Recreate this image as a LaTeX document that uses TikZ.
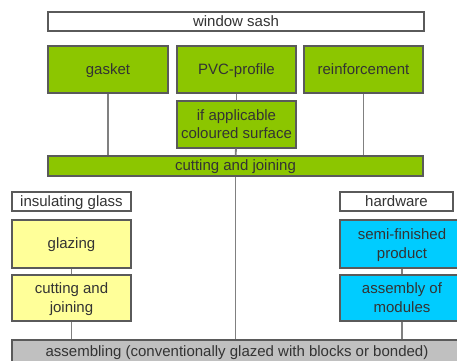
\documentclass[tikz,border=0pt]{standalone}
\usepackage{fontspec}
\setmainfont{Liberation Sans}
\definecolor{boxgreen}{RGB}{140,198,0}
\definecolor{boxyellow}{RGB}{255,255,153}
\definecolor{boxblue}{RGB}{0,204,255}
\definecolor{boxgray}{RGB}{192,192,192}
\definecolor{linegray}{RGB}{128,128,128}
\definecolor{edgegray}{RGB}{90,90,90}
\tikzset{
    stage/.style={draw=edgegray, line width=1.2pt, inner sep=0pt, align=center,
        font=\fontsize{15}{18.5}\selectfont, text=black!80, text depth=1pt},
    link/.style={draw=linegray, line width=1.8pt}
}
\begin{document}
\begin{tikzpicture}[x=1pt, y=-1pt]
    \useasboundingbox (0,0) rectangle (457,360);
    \clip (0,0) rectangle (457,360);

    % top: sash and its parts
    \node[stage, fill=white, minimum width=376pt, minimum height=19pt] (sash) at (236,21.5) {window sash};
    \node[stage, fill=boxgreen, minimum width=120pt, minimum height=47pt] (gasket) at (108,69.5) {gasket};
    \node[stage, fill=boxgreen, minimum width=119pt, minimum height=47pt] (profile) at (236.5,69.5) {PVC-profile};
    \node[stage, fill=boxgreen, minimum width=119pt, minimum height=47pt] (reinf) at (363.5,69.5) {reinforcement};
    \node[stage, fill=boxgreen, minimum width=119pt, minimum height=47pt] (surface) at (236.5,124.5)
        {if applicable\\coloured surface};
    \node[stage, fill=boxgreen, minimum width=375pt, minimum height=20pt] (cutjoin) at (235.5,166) {cutting and joining};

    % left: insulating glass
    \node[stage, fill=white, minimum width=119pt, minimum height=19pt] (glass) at (71.5,201.5) {insulating glass};
    \node[stage, fill=boxyellow, minimum width=119pt, minimum height=48pt] (glazing) at (71.5,244) {glazing};
    \node[stage, fill=boxyellow, minimum width=119pt, minimum height=46pt] (glasscut) at (71.5,298)
        {cutting and\\joining};

    % right: hardware
    \node[stage, fill=white, minimum width=113pt, minimum height=19pt] (hardware) at (396.5,201.5) {hardware};
    \node[stage, fill=boxblue, minimum width=124pt, minimum height=48pt] (semi) at (402,244)
        {semi-finished\\product};
    \node[stage, fill=boxblue, minimum width=124pt, minimum height=46pt] (modules) at (402,298)
        {assembly of\\modules};

    % bottom
    \node[stage, fill=boxgray, minimum width=450pt, minimum height=26pt] (assembling) at (237,353)
        {\raisebox{2pt}{assembling (conventionally glazed with blocks or bonded)}};

    % connectors
    \draw[link] (gasket.south) -- (gasket.south |- cutjoin.north);
    \draw[link] (reinf.south) -- (reinf.south |- cutjoin.north);
    \draw[link] (profile) -- (surface);
    \draw[link] (surface) -- (cutjoin);
    \draw[link] (cutjoin.south) -- (cutjoin.south |- assembling.north);
    \draw[link] (glazing) -- (glasscut);
    \draw[link] (glasscut.south) -- (glasscut.south |- assembling.north);
    \draw[link] (semi) -- (modules);
    \draw[link] (modules.south) -- (modules.south |- assembling.north);
\end{tikzpicture}
\end{document}
